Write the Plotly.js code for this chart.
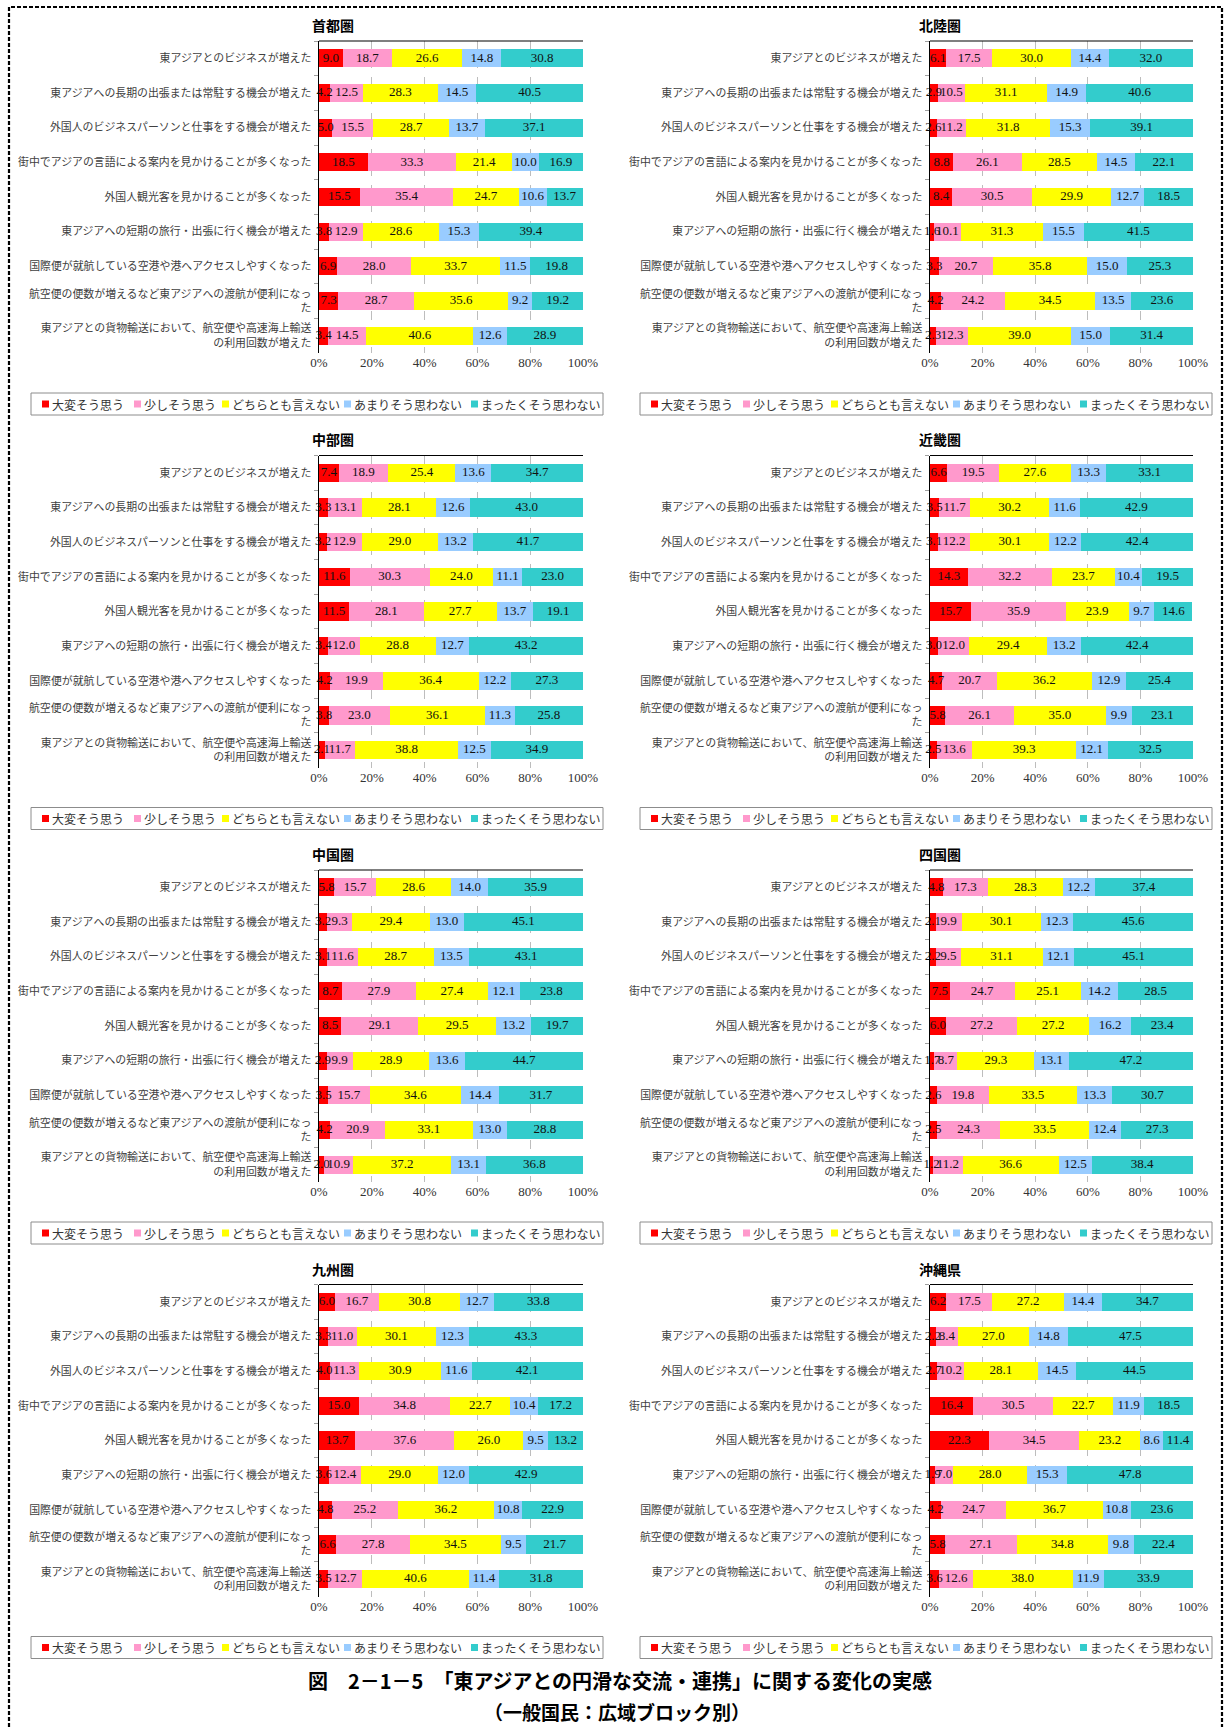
<!DOCTYPE html>
<html><head><meta charset="utf-8">
<script src="https://cdn.plot.ly/plotly-3.0.1.min.js"></script>
<style>body{margin:0;background:#fff}</style>
</head><body><div id="chart" style="width:1228px;height:1727px"></div>
<script>
const categories = [
  '東アジアとのビジネスが増えた',
  '東アジアへの長期の出張または常駐する機会が増えた',
  '外国人のビジネスパーソンと仕事をする機会が増えた',
  '街中でアジアの言語による案内を見かけることが多くなった',
  '外国人観光客を見かけることが多くなった',
  '東アジアへの短期の旅行・出張に行く機会が増えた',
  '国際便が就航している空港や港へアクセスしやすくなった',
  '航空便の便数が増えるなど東アジアへの渡航が便利になっ<br>た',
  '東アジアとの貨物輸送において、航空便や高速海上輸送<br>の利用回数が増えた'
];
const seriesNames = ['大変そう思う','少しそう思う','どちらとも言えない','あまりそう思わない','まったくそう思わない'];
const regionNames = ['首都圏','北陸圏','中部圏','近畿圏','中国圏','四国圏','九州圏','沖縄県'];
const tickValues = [0,20,40,60,80,100];
const tickLabels = ['0%','20%','40%','60%','80%','100%'];

// each row: [大変, 少し, どちらとも, あまり, まったく]
const shutoken = [
  [9.0,18.7,26.6,14.8,30.8],[4.2,12.5,28.3,14.5,40.5],[5.0,15.5,28.7,13.7,37.1],
  [18.5,33.3,21.4,10.0,16.9],[15.5,35.4,24.7,10.6,13.7],[3.8,12.9,28.6,15.3,39.4],
  [6.9,28.0,33.7,11.5,19.8],[7.3,28.7,35.6,9.2,19.2],[3.4,14.5,40.6,12.6,28.9]];
const hokuriku = [
  [6.1,17.5,30.0,14.4,32.0],[2.9,10.5,31.1,14.9,40.6],[2.6,11.2,31.8,15.3,39.1],
  [8.8,26.1,28.5,14.5,22.1],[8.4,30.5,29.9,12.7,18.5],[1.6,10.1,31.3,15.5,41.5],
  [3.3,20.7,35.8,15.0,25.3],[4.2,24.2,34.5,13.5,23.6],[2.3,12.3,39.0,15.0,31.4]];
const chubu = [
  [7.4,18.9,25.4,13.6,34.7],[3.3,13.1,28.1,12.6,43.0],[3.2,12.9,29.0,13.2,41.7],
  [11.6,30.3,24.0,11.1,23.0],[11.5,28.1,27.7,13.7,19.1],[3.4,12.0,28.8,12.7,43.2],
  [4.2,19.9,36.4,12.2,27.3],[3.8,23.0,36.1,11.3,25.8],[2.1,11.7,38.8,12.5,34.9]];
const kinki = [
  [6.6,19.5,27.6,13.3,33.1],[3.5,11.7,30.2,11.6,42.9],[3.1,12.2,30.1,12.2,42.4],
  [14.3,32.2,23.7,10.4,19.5],[15.7,35.9,23.9,9.7,14.6],[3.0,12.0,29.4,13.2,42.4],
  [4.7,20.7,36.2,12.9,25.4],[5.8,26.1,35.0,9.9,23.1],[2.5,13.6,39.3,12.1,32.5]];
const chugoku = [
  [5.8,15.7,28.6,14.0,35.9],[3.2,9.3,29.4,13.0,45.1],[3.1,11.6,28.7,13.5,43.1],
  [8.7,27.9,27.4,12.1,23.8],[8.5,29.1,29.5,13.2,19.7],[2.9,9.9,28.9,13.6,44.7],
  [3.5,15.7,34.6,14.4,31.7],[4.2,20.9,33.1,13.0,28.8],[2.0,10.9,37.2,13.1,36.8]];
const shikoku = [
  [4.8,17.3,28.3,12.2,37.4],[2.1,9.9,30.1,12.3,45.6],[2.2,9.5,31.1,12.1,45.1],
  [7.5,24.7,25.1,14.2,28.5],[6.0,27.2,27.2,16.2,23.4],[1.7,8.7,29.3,13.1,47.2],
  [2.6,19.8,33.5,13.3,30.7],[2.5,24.3,33.5,12.4,27.3],[1.2,11.2,36.6,12.5,38.4]];
const kyushu = [
  [6.0,16.7,30.8,12.7,33.8],[3.3,11.0,30.1,12.3,43.3],[4.0,11.3,30.9,11.6,42.1],
  [15.0,34.8,22.7,10.4,17.2],[13.7,37.6,26.0,9.5,13.2],[3.6,12.4,29.0,12.0,42.9],
  [4.8,25.2,36.2,10.8,22.9],[6.6,27.8,34.5,9.5,21.7],[3.5,12.7,40.6,11.4,31.8]];
const okinawa = [
  [6.2,17.5,27.2,14.4,34.7],[2.2,8.4,27.0,14.8,47.5],[2.7,10.2,28.1,14.5,44.5],
  [16.4,30.5,22.7,11.9,18.5],[22.3,34.5,23.2,8.6,11.4],[1.9,7.0,28.0,15.3,47.8],
  [4.2,24.7,36.7,10.8,23.6],[5.8,27.1,34.8,9.8,22.4],[3.6,12.6,38.0,11.9,33.9]];

const regionData = [shutoken, hokuriku, chubu, kinki, chugoku, shikoku, kyushu, okinawa];
const seriesColors = ['#FF0000','#FF99CC','#FFFF00','#99CCFF','#33CCCC'];

const W = 1228, H = 1727;
const px = v => v / W;
const py = v => 1 - v / H;
const JP = '"Noto Sans CJK JP", "Noto Sans", sans-serif';
const SERIF = '"Liberation Serif", "Noto Sans CJK JP", serif';

const plotX0 = [319, 930], plotX1 = [583, 1193];
const rowStep = 414.5, plotTop0 = 41, plotH = 312;

const traces = [];
const layout = {
  width: W, height: H,
  margin: {l:0, r:0, t:0, b:0},
  paper_bgcolor: '#fff', plot_bgcolor: '#fff',
  barmode: 'stack', bargap: 0.48,
  showlegend: false,
  hovermode: false,
  shapes: [], annotations: []
};

regionData.forEach((rows, i) => {
  const n = i + 1;
  const col = i % 2, row = Math.floor(i / 2);
  const xa = n === 1 ? 'x' : 'x' + n;
  const ya = n === 1 ? 'y' : 'y' + n;
  seriesNames.forEach((name, s) => {
    const vals = rows.map(r => r[s]);
    traces.push({
      type: 'bar', orientation: 'h', name: name,
      x: vals, y: categories,
      xaxis: xa, yaxis: ya,
      marker: {color: seriesColors[s], line: {width: 0}},
      textposition: 'none',
      showlegend: false
    });
  });
  // value labels centred on each segment (may overflow like the original)
  const lx = [], ly = [], lt = [];
  rows.forEach((r, c) => {
    let cum = 0;
    r.forEach(v => {
      lx.push(cum + v / 2); ly.push(categories[c]); lt.push(v.toFixed(1));
      cum += v;
    });
  });
  traces.push({
    type: 'scatter', mode: 'text', x: lx, y: ly, text: lt,
    xaxis: xa, yaxis: ya, cliponaxis: false, showlegend: false,
    textposition: 'middle center',
    textfont: {family: SERIF, size: 13, color: '#111'}
  });
  const top = plotTop0 + rowStep * row, bottom = top + plotH;
  const x0 = plotX0[col], x1 = plotX1[col];
  layout[n === 1 ? 'xaxis' : 'xaxis' + n] = {
    domain: [px(x0), px(x1)], anchor: ya,
    range: [0, 100], fixedrange: true,
    tickvals: tickValues, ticktext: tickLabels,
    tickfont: {family: SERIF, size: 13, color: '#333'},
    showgrid: true, gridcolor: '#BDBDBD', griddash: 'dash', gridwidth: 1,
    zeroline: false, showline: false, ticks: '', automargin: false
  };
  layout[n === 1 ? 'yaxis' : 'yaxis' + n] = {
    domain: [py(bottom), py(top)], anchor: xa,
    type: 'category', autorange: 'reversed', fixedrange: true,
    tickfont: {family: JP, size: 10.9, color: '#404040'},
    ticks: 'outside', tickson: 'boundaries', ticklen: 4, tickcolor: '#A0A0A0',
    ticklabelstandoff: 4,
    showline: true, linecolor: '#000', linewidth: 1.5,
    showgrid: false, zeroline: false, automargin: false
  };
  // top border of plot area
  layout.shapes.push({type: 'line', xref: 'paper', yref: 'paper',
    x0: px(x0), x1: px(x1), y0: py(top), y1: py(top), line: {color: '#000', width: 1.2}});
  // panel title
  layout.annotations.push({xref: 'paper', yref: 'paper', x: px(col ? 940 : 333), y: py(top - 16),
    text: '<b>' + regionNames[i] + '</b>', showarrow: false, xanchor: 'center', yanchor: 'middle',
    font: {family: JP, size: 14, color: '#000'}});
  // legend
  const off = col ? 609 : 0;
  const lyTop = 393 + rowStep * row, lyBot = lyTop + 22, lyMid = (lyTop + lyBot) / 2;
  layout.shapes.push({type: 'rect', xref: 'paper', yref: 'paper',
    x0: px(31 + off), x1: px(603 + off), y0: py(lyBot), y1: py(lyTop),
    line: {color: '#8C8C8C', width: 1}, fillcolor: 'rgba(0,0,0,0)'});
  const sqX = [42, 134, 222, 344, 471];
  seriesNames.forEach((name, s) => {
    const sx = sqX[s] + off;
    layout.shapes.push({type: 'rect', xref: 'paper', yref: 'paper',
      x0: px(sx), x1: px(sx + 7), y0: py(lyMid + 3.5), y1: py(lyMid - 3.5),
      line: {width: 0}, fillcolor: seriesColors[s]});
    layout.annotations.push({xref: 'paper', yref: 'paper', x: px(sx + 8), y: py(lyMid),
      text: name, showarrow: false, xanchor: 'left', yanchor: 'middle',
      font: {family: JP, size: 12, color: '#333'}});
  });
});

// outer dashed frame
layout.shapes.push({type: 'rect', xref: 'paper', yref: 'paper',
  x0: px(9), x1: px(1222), y0: py(1745), y1: py(7),
  line: {color: '#000', width: 2.2, dash: '4px,2px'}, fillcolor: 'rgba(0,0,0,0)'});

// figure title
layout.annotations.push({xref: 'paper', yref: 'paper', x: px(620), y: py(1680),
  text: '<b>図　2－1－5　「東アジアとの円滑な交流・連携」に関する変化の実感</b>', showarrow: false,
  xanchor: 'center', yanchor: 'middle', font: {family: JP, size: 20, color: '#000'}});
layout.annotations.push({xref: 'paper', yref: 'paper', x: px(617), y: py(1711),
  text: '<b>（一般国民：広域ブロック別）</b>', showarrow: false,
  xanchor: 'center', yanchor: 'middle', font: {family: JP, size: 19, color: '#000'}});

Plotly.newPlot('chart', traces, layout, {displayModeBar: false, staticPlot: true});
</script></body></html>
